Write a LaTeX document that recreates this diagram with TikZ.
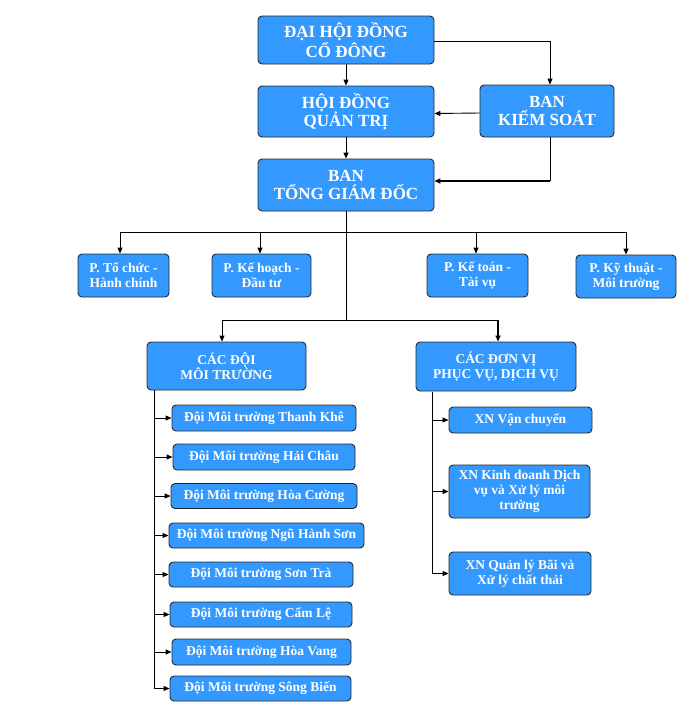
\documentclass[tikz,border=0pt]{standalone}
\usepackage{fontspec}
\setmainfont{Liberation Serif}
\usetikzlibrary{arrows.meta}
\definecolor{boxblue}{RGB}{51,153,255}
\definecolor{boxline}{RGB}{40,40,40}
\tikzset{
  box/.style={draw=boxline, line width=0.9pt, fill=boxblue, rounded corners=4pt,
    text=white, font=\bfseries, align=center, inner sep=1pt},
  bigtext/.style={font=\fontsize{17}{18}\selectfont\bfseries},
  smalltext/.style={font=\fontsize{13.5}{15}\selectfont\bfseries},
  arr/.style={draw=black, line width=0.9pt, -{Triangle[length=6pt,width=5pt]}},
  ln/.style={draw=black, line width=0.9pt},
}
\begin{document}
\begin{tikzpicture}[x=1pt,y=-1pt]
\useasboundingbox (0,0) rectangle (699,721);
% top level
\node[box,bigtext,minimum width=176,minimum height=48] (dhdc) at (346,40) {ĐẠI HỘI ĐỒNG\\CỔ ĐÔNG};
\node[box,bigtext,minimum width=176,minimum height=51] (hdqt) at (346,111.5) {HỘI ĐỒNG\\QUẢN TRỊ};
\node[box,bigtext,minimum width=134,minimum height=52] (bks) at (547,111) {BAN\\KIỂM SOÁT};
\node[box,bigtext,minimum width=176,minimum height=52] (btgd) at (346,185) {BAN\\TỔNG GIÁM ĐỐC};
% departments
\node[box,smalltext,minimum width=91,minimum height=43] (p1) at (123.5,275.5) {P. Tổ chức -\\Hành chính};
\node[box,smalltext,minimum width=99,minimum height=43] (p2) at (261.5,275.5) {P. Kế hoạch -\\Đầu tư};
\node[box,smalltext,minimum width=101,minimum height=43] (p3) at (477.5,275.5) {P. Kế toán -\\Tài vụ};
\node[box,smalltext,minimum width=100,minimum height=43] (p4) at (626,276.5) {P. Kỹ thuật -\\Môi trường};
% groups
\node[box,smalltext,minimum width=159,minimum height=48] (doi) at (226.5,366) {CÁC ĐỘI\\MÔI TRƯỜNG};
\node[box,smalltext,minimum width=160,minimum height=49] (donvi) at (496,366.5) {CÁC ĐƠN VỊ\\PHỤC VỤ, DỊCH VỤ};
% teams
\node[box,smalltext,minimum width=184,minimum height=26] (d1) at (264,418) {Đội Môi trường Thanh Khê};
\node[box,smalltext,minimum width=182,minimum height=26] (d2) at (264,457) {Đội Môi trường Hải Châu};
\node[box,smalltext,minimum width=186,minimum height=25] (d3) at (264,496) {Đội Môi trường Hòa Cường};
\node[box,smalltext,minimum width=195,minimum height=25] (d4) at (266.5,535.5) {Đội Môi trường Ngũ Hành Sơn};
\node[box,smalltext,minimum width=184,minimum height=25] (d5) at (261,574.5) {Đội Môi trường Sơn Trà};
\node[box,smalltext,minimum width=182,minimum height=25] (d6) at (261,614.5) {Đội Môi trường Cẩm Lệ};
\node[box,smalltext,minimum width=179,minimum height=26] (d7) at (261.5,652) {Đội Môi trường Hòa Vang};
\node[box,smalltext,minimum width=181,minimum height=25] (d8) at (260.5,688.5) {Đội Môi trường Sông Biến};
% enterprises
\node[box,smalltext,minimum width=143,minimum height=26] (x1) at (520.5,420) {XN Vận chuyển};
\node[box,smalltext,minimum width=141,minimum height=53] (x2) at (519.5,491.5) {XN Kinh doanh Dịch\\vụ và Xử lý môi\\trường};
\node[box,smalltext,minimum width=142,minimum height=43] (x3) at (520,573.5) {XN Quản lý Bãi và\\Xử lý chất thải};
% connectors top
\draw[arr] (dhdc) -- (hdqt);
\draw[arr] ([yshift=-1pt]dhdc.east) -| ([xshift=3pt]bks.north);
\draw[arr] ([yshift=-2pt]bks.west) -- ([yshift=-2pt]hdqt.east);
\coordinate (kc) at ([xshift=3pt]bks.south |- 0,181);
\draw[ln] ([xshift=3pt]bks.south) -- (kc);
\draw[arr, line width=1.8pt] (kc) -- (btgd.east |- kc);
\draw[arr] (hdqt) -- (btgd);
% bus to departments
\coordinate (bus1) at (346,232);
\coordinate (bus2) at (346,320);
\draw[ln] (btgd.south) -- (bus2);
\draw[arr] (bus1) -| ([xshift=-3.5pt]p1.north);
\draw[arr] (bus1) -| ([xshift=-1.5pt]p2.north);
\draw[arr] (bus1) -| ([xshift=-1.5pt]p3.north);
\draw[arr] (bus1) -| (p4.north);
\draw[arr] (bus2) -| ([xshift=-4.5pt]doi.north);
\coordinate (dv) at ([xshift=2pt]donvi.north |- bus2);
\draw[ln] (bus2) -- (dv);
\draw[arr, line width=1.6pt] (dv) -- ([xshift=2pt]donvi.north);
% left spine
\coordinate (spL) at (154,390);
\draw[arr] (spL) |- (d8.west);
\foreach \n in {d1,d2,d3,d4,d5,d6,d7}{
  \draw[arr] (spL |- \n.west) -- (\n.west);
}
% right spine
\coordinate (spR) at (432,392);
\draw[arr] (spR) |- (x3.west);
\draw[arr] (spR |- x1.west) -- (x1.west);
\draw[arr] (spR |- x2.west) -- (x2.west);
\end{tikzpicture}
\end{document}
